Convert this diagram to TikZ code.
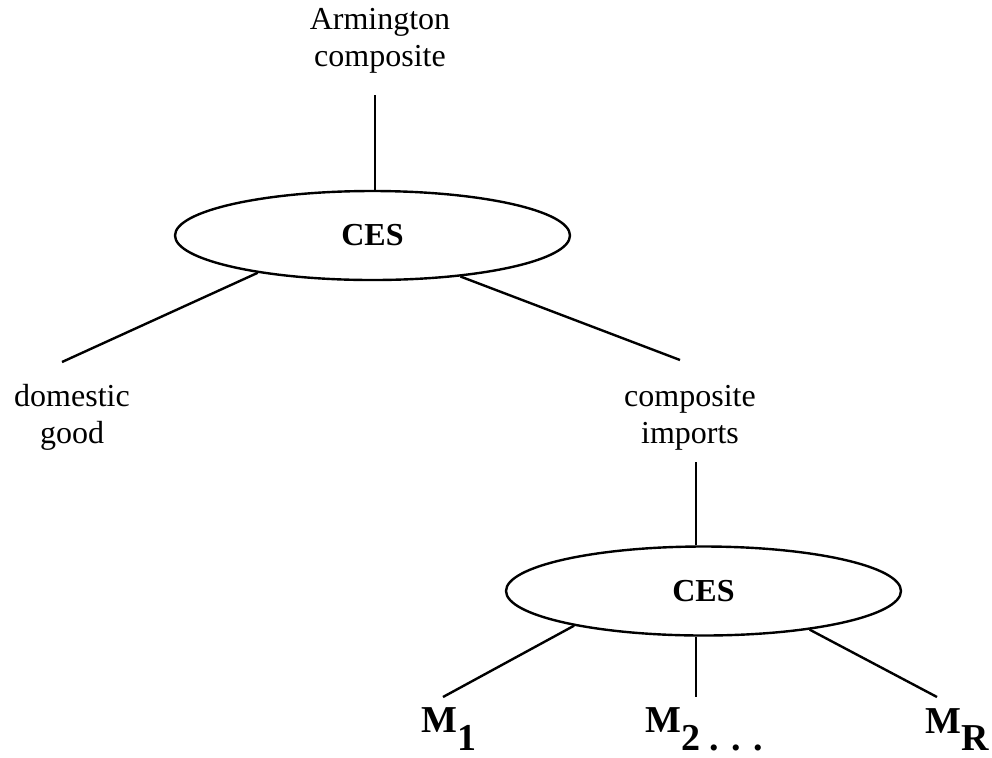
\documentclass[tikz,border=0pt]{standalone}
\usepackage{fontspec}
\setmainfont{Liberation Serif}
\usetikzlibrary{shapes.geometric}

\tikzset{
  ces/.style={draw, ellipse, minimum width=197.5pt, minimum height=44.5pt,
    inner sep=0pt, font=\fontsize{16}{18.5}\selectfont\bfseries},
  lbl/.style={align=center, inner sep=0pt, font=\fontsize{16}{18.5}\selectfont},
  mlbl/.style={anchor=base west, inner sep=0pt, font=\fontsize{19}{23}\selectfont\bfseries},
}

\begin{document}
\begin{tikzpicture}[x=0.5pt, y=-0.5pt, line width=1.2pt]
        \useasboundingbox (0,0) rectangle (992,757);
        % upper nest
        \node[lbl] (arm) at (380,41) {Armington\\composite};
        \node[ces] (e1) at (372.5,235.5) {CES};
        \node[lbl] (dom) at (72,417) {domestic\\good};
        \node[lbl] (imp) at (690,418) {composite\\imports};
        \coordinate (arm-end) at (375,95);
        \coordinate (dom-end) at (62,362);
        \coordinate (imp-end) at (680,360);
        \draw (arm-end) -- (arm-end |- e1.north);
        \draw (e1.198) -- (dom-end);
        \draw (e1.335) -- (imp-end);

        % lower nest
        \node[ces] (e2) at (703.5,591) {CES};
        \node[mlbl] (m1) at (420,732) {M\raisebox{-9pt}{1}};
        \node[mlbl] (m2) at (644,732) {M\raisebox{-9pt}{2 . . .}};
        \node[mlbl] (mr) at (924,733) {M\raisebox{-8.5pt}{R}};
        \coordinate (imp-bot) at (696,462);
        \coordinate (m1-end) at (443,697);
        \coordinate (m2-end) at (696,697);
        \coordinate (mr-end) at (937,697);
        \draw (imp-bot) -- (imp-bot |- e2.north);
        \draw (e2.195) -- (m1-end);
        \draw (m2-end |- e2.south) -- (m2-end);
        \draw (e2.340) -- (mr-end);
\end{tikzpicture}
\end{document}
